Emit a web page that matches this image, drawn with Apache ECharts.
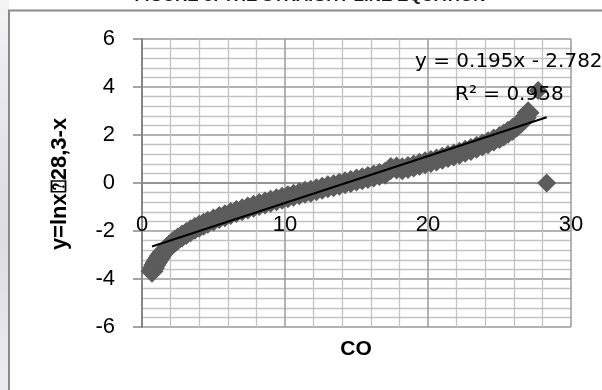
<!DOCTYPE html>
<html>
<head>
<meta charset="utf-8">
<style>
  html, body { margin: 0; padding: 0; background: #ffffff; }
  #chart { width: 602px; height: 390px; }
</style>
<script src="https://cdn.jsdelivr.net/npm/echarts@6/dist/echarts.min.js"></script>
</head>
<body>
<div id="chart"></div>
<script>
// Measured points: CO on x, y = ln(x/(28,3-x)) on y
const coValues = [
  0.7, 0.8, 0.9, 1.0, 1.1, 1.2, 1.3, 1.4, 1.5, 1.7, 1.9, 2.1, 2.3, 2.5, 2.8, 3.1, 3.4, 3.7, 4.0, 4.3, 4.6,
  5.0, 5.4, 5.8, 6.2, 6.6, 7.0, 7.4, 7.8, 8.2, 8.6, 9.0, 9.4, 9.8, 10.2, 10.6, 11.0,
  11.4, 11.8, 12.2, 12.6, 13.0, 13.4, 13.8, 14.2, 14.6, 15.0, 15.4, 15.8, 16.2, 16.6,
  17.0, 17.4, 17.8, 18.2, 18.6, 19.0, 19.4, 19.8, 20.2, 20.6, 21.0, 21.4, 21.8, 22.2,
  22.6, 23.0, 23.4, 23.8, 24.2, 24.6, 25.0, 25.3, 25.6, 25.9, 26.2, 26.5, 26.8, 27.0
];
const lnValues = [
  -3.68, -3.54, -3.42, -3.31, -3.21, -3.12, -3.03, -2.95, -2.88, -2.75, -2.63, -2.52, -2.43, -2.33, -2.21, -2.10, -1.99, -1.89, -1.80, -1.72, -1.64,
  -1.54, -1.44, -1.36, -1.27, -1.19, -1.11, -1.04, -0.97, -0.90, -0.83, -0.76, -0.70, -0.64, -0.57, -0.51, -0.45,
  -0.39, -0.34, -0.28, -0.22, -0.16, -0.11, -0.05, 0.01, 0.06, 0.12, 0.18, 0.23, 0.29, 0.35,
  0.41, 0.60, 0.62, 0.59, 0.65, 0.71, 0.78, 0.84, 0.90, 0.96, 1.03, 1.10, 1.17, 1.24,
  1.32, 1.40, 1.49, 1.58, 1.68, 1.79, 1.90, 2.00, 2.11, 2.23, 2.37, 2.53, 2.72, 2.93
];
// Two isolated readings at the top of the range
const outlierCo = [27.7, 28.3];
const outlierLn = [3.85, 0.00];

// Linear trendline as stated in the label
const trendSlope = 0.195;
const trendIntercept = -2.782;
const trendRSquared = 0.958;

const xTicks = [0, 10, 20, 30];
const yTicks = [-6, -4, -2, 0, 2, 4, 6];

const points = coValues.map((x, i) => [x, lnValues[i]]);
const outlierPoints = outlierCo.map((x, i) => [x, outlierLn[i]]);
const allCo = coValues.concat(outlierCo);
const xMinData = Math.min(...allCo);
const xMaxData = Math.max(...allCo);
const trendPoints = [xMinData, xMaxData].map(x => [x, trendSlope * x + trendIntercept]);

const majorGrid = '#9a9a9a';
const minorGrid = '#c2c2c2';
const axisGray = '#868686';
const markColor = '#5c5c5c';
const tickFont = { fontFamily: 'Liberation Sans', fontSize: 22, color: '#000' };

const chart = echarts.init(document.getElementById('chart'), null, { renderer: 'canvas' });
chart.setOption({
  animation: false,
  backgroundColor: '#ffffff',
  grid: { left: 142, right: 31, top: 39, bottom: 63, containLabel: false },
  xAxis: {
    type: 'value',
    min: xTicks[0], max: xTicks[xTicks.length - 1], interval: 10,
    // the horizontal axis crosses the vertical one at y = 0 (144 px above the plot bottom)
    offset: -144,
    axisLine: { show: true, onZero: false, lineStyle: { color: '#8a8a8a', width: 1.5 } },
    axisTick: { show: false },
    axisLabel: Object.assign({ margin: 31 }, tickFont),
    splitLine: { show: true, lineStyle: { color: majorGrid, width: 1.5 } },
    minorTick: { show: false, splitNumber: 5 },
    minorSplitLine: { show: true, lineStyle: { color: minorGrid, width: 1.3 } }
  },
  yAxis: {
    type: 'value',
    min: yTicks[0], max: yTicks[yTicks.length - 1], interval: 2,
    axisLine: { show: true, onZero: false, lineStyle: { color: axisGray, width: 2 } },
    axisTick: { show: true, inside: false, length: 9, lineStyle: { color: axisGray, width: 1.5 } },
    axisLabel: Object.assign({ margin: 27 }, tickFont),
    splitLine: { show: true, lineStyle: { color: majorGrid, width: 1.5 } },
    minorTick: { show: false, splitNumber: 5 },
    minorSplitLine: { show: true, lineStyle: { color: minorGrid, width: 1.3 } }
  },
  series: [
    {
      type: 'scatter',
      data: points,
      symbol: 'diamond',
      symbolSize: 23,
      itemStyle: { color: markColor, opacity: 1 },
      emphasis: { disabled: true },
      z: 2
    },
    {
      type: 'scatter',
      data: outlierPoints,
      symbol: 'diamond',
      symbolSize: 19,
      itemStyle: { color: markColor, opacity: 1 },
      emphasis: { disabled: true },
      z: 2
    },
    {
      type: 'line',
      data: trendPoints,
      showSymbol: false,
      symbol: 'none',
      lineStyle: { color: '#000000', width: 2 },
      emphasis: { disabled: true },
      z: 3
    }
  ],
  graphic: [
    {
      type: 'rect', silent: true, z: -10,
      shape: { x: 0, y: 0, width: 9, height: 390 },
      style: {
        fill: new echarts.graphic.LinearGradient(0, 0, 0, 1, [
          { offset: 0, color: '#f4f4f6' },
          { offset: 0.3, color: '#e6e6ec' },
          { offset: 0.6, color: '#dcdce2' },
          { offset: 1, color: '#ececf0' }
        ])
      }
    },
    {
      type: 'rect', silent: true, z: 10,
      shape: { x: 9, y: 10.5, width: 620, height: 420 },
      style: { fill: 'none', stroke: '#8a8a8a', lineWidth: 2 }
    },
    {
      type: 'text', silent: true, z: 10,
      x: 310, y: -4,
      style: {
        text: 'FIGURE 5: THE STRAIGHT LINE EQUATION',
        font: 'bold 17px "Liberation Sans"',
        fill: '#1a1a1a', align: 'center', verticalAlign: 'middle'
      }
    },
    {
      type: 'text', silent: true, z: 10,
      x: 60, y: 184, rotation: Math.PI / 2,
      style: {
        text: 'y=lnx\u237028,3-x',
        font: 'bold 22px "Liberation Sans"',
        fill: '#000', align: 'center', verticalAlign: 'middle'
      }
    },
    {
      type: 'text', silent: true, z: 10,
      x: 356, y: 349,
      style: {
        text: 'CO',
        font: 'bold 21px "Liberation Sans"',
        fill: '#000', align: 'center', verticalAlign: 'middle'
      }
    },
    {
      type: 'text', silent: true, z: 10,
      x: 415, y: 62,
      style: {
        text: 'y = ' + trendSlope.toFixed(3) + 'x - ' + Math.abs(trendIntercept).toFixed(3),
        font: '20px "DejaVu Sans"',
        fill: '#000', align: 'left', verticalAlign: 'middle'
      }
    },
    {
      type: 'text', silent: true, z: 10,
      x: 455, y: 95,
      style: {
        text: 'R\u00B2 = ' + trendRSquared.toFixed(3),
        font: '20px "DejaVu Sans"',
        fill: '#000', align: 'left', verticalAlign: 'middle'
      }
    }
  ]
});
</script>
</body>
</html>
